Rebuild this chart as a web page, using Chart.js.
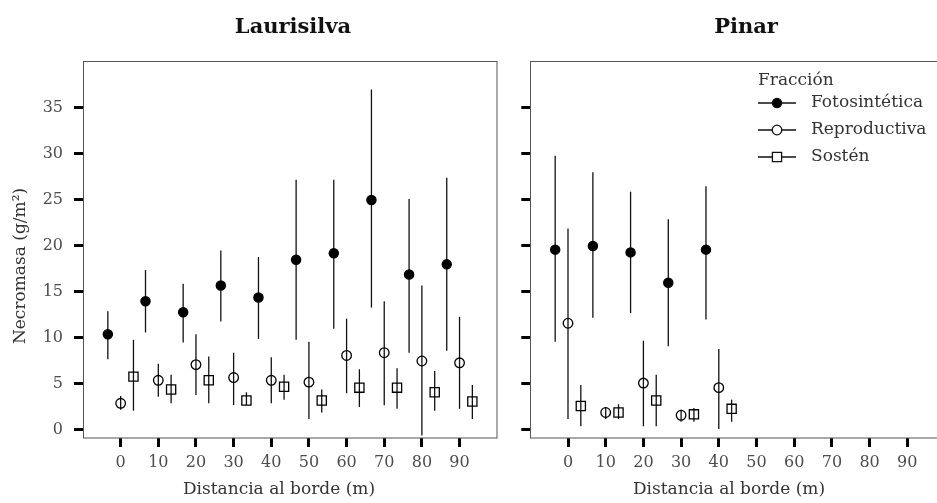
<!DOCTYPE html>
<html lang="es">
<head>
<meta charset="UTF-8">
<title>Necromasa por distancia al borde</title>
<script src="https://cdn.jsdelivr.net/npm/chart.js"></script>
<style>
  body { margin: 0; width: 937px; height: 503px; overflow: hidden; background: #fff; position: relative; }
  canvas { position: absolute; top: 0; }
  #lauri { left: 0; }
  #pinar { left: 505px; }
</style>
</head>
<body>
<canvas id="lauri" width="505" height="503"></canvas>
<canvas id="pinar" width="450" height="503"></canvas>
<script>
// --- datos ---
const fracciones = ['Fotosintética', 'Reproductiva', 'Sostén'];
const xTicks = [0, 10, 20, 30, 40, 50, 60, 70, 80, 90];
const yTicks = [0, 5, 10, 15, 20, 25, 30, 35];

// Laurisilva
const distLauri = [0, 10, 20, 30, 40, 50, 60, 70, 80, 90];
const lauFotoMedia = [10.4, 14.0, 12.8, 15.7, 14.4, 18.5, 19.2, 25.0, 16.9, 18.0];
const lauFotoInf   = [7.7, 10.6, 9.5, 11.8, 9.9, 9.8, 11.0, 13.3, 8.4, 8.6];
const lauFotoSup   = [12.9, 17.4, 15.9, 19.5, 18.8, 27.2, 27.2, 37.0, 25.1, 27.4];
const lauReprMedia = [2.9, 5.4, 7.1, 5.7, 5.4, 5.2, 8.1, 8.4, 7.5, 7.3];
const lauReprInf   = [2.2, 3.6, 3.8, 2.7, 2.9, 1.2, 4.0, 2.7, -0.6, 2.3];
const lauReprSup   = [3.7, 7.2, 10.4, 8.4, 7.9, 9.6, 12.1, 14.0, 15.7, 12.3];
const lauSostMedia = [5.8, 4.4, 5.4, 3.2, 4.7, 3.2, 4.6, 4.6, 4.1, 3.1];
const lauSostInf   = [2.1, 2.9, 2.9, 2.7, 3.3, 1.9, 2.5, 2.3, 2.1, 1.2];
const lauSostSup   = [9.8, 6.0, 8.0, 4.1, 6.0, 4.4, 6.6, 6.7, 6.4, 4.9];

// Pinar
const distPinar = [0, 10, 20, 30, 40];
const pinFotoMedia = [19.6, 20.0, 19.3, 16.0, 19.6];
const pinFotoInf   = [9.6, 12.2, 12.7, 9.1, 12.0];
const pinFotoSup   = [29.8, 28.0, 25.9, 22.9, 26.5];
const pinReprMedia = [11.6, 1.9, 5.1, 1.6, 4.6];
const pinReprInf   = [1.2, 1.2, 0.4, 0.9, 0.1];
const pinReprSup   = [21.9, 2.5, 9.7, 2.2, 8.8];
const pinSostMedia = [2.6, 1.9, 3.2, 1.7, 2.3];
const pinSostInf   = [0.4, 1.2, 0.4, 0.9, 0.9];
const pinSostSup   = [4.9, 2.8, 6.0, 2.4, 3.3];

// --- estilo ---
const FUENTE = '"DejaVu Serif", serif';
const DODGE = 3.4;
const estilos = [
  { pointStyle: 'circle', radius: 4.6, bg: '#000' },
  { pointStyle: 'circle', radius: 4.8, bg: 'rgba(0,0,0,0)' },
  { pointStyle: 'rect', radius: 6.5, bg: 'rgba(0,0,0,0)' }
];

// barras de error bajo los puntos
const barrasError = {
  id: 'barrasError',
  beforeDatasetsDraw(chart) {
    const { ctx, scales: { x, y } } = chart;
    ctx.save();
    ctx.strokeStyle = '#111';
    ctx.lineWidth = 1.3;
    chart.data.datasets.forEach(ds => {
      ds.data.forEach((p, i) => {
        const px = x.getPixelForValue(p.x);
        ctx.beginPath();
        ctx.moveTo(px, y.getPixelForValue(ds.inf[i]));
        ctx.lineTo(px, y.getPixelForValue(ds.sup[i]));
        ctx.stroke();
      });
    });
    ctx.restore();
  }
};

// marco del panel, titulo y titulos de ejes
const marco = {
  id: 'marco',
  afterDraw(chart, args, opts) {
    const { ctx, chartArea: a } = chart;
    ctx.save();
    ctx.strokeStyle = '#555';
    ctx.lineWidth = 1;
    const l = Math.round(a.left) + 0.5, t = Math.round(a.top) + 0.5;
    ctx.strokeRect(l, t, Math.round(a.right) - l, Math.round(a.bottom) - t);

    ctx.fillStyle = '#111';
    ctx.font = 'bold 21px ' + FUENTE;
    ctx.textAlign = 'center';
    ctx.textBaseline = 'alphabetic';
    ctx.fillText(opts.texto, opts.x, 33);

    ctx.fillStyle = '#333';
    ctx.font = '17px ' + FUENTE;
    ctx.textBaseline = 'middle';
    ctx.fillText('Distancia al borde (m)', opts.ejeX, 490);
    if (opts.ejeY) {
      ctx.translate(21, opts.ejeY);
      ctx.rotate(-Math.PI / 2);
      ctx.fillText('Necromasa (g/m²)', 0, 0);
    }
    ctx.restore();
  }
};

// leyenda "Fracción"
const leyenda = {
  id: 'leyenda',
  afterDraw(chart, args, opts) {
    if (!opts.display) return;
    const { ctx } = chart;
    ctx.save();
    ctx.font = '17px ' + FUENTE;
    ctx.fillStyle = '#333';
    ctx.textAlign = 'left';
    ctx.textBaseline = 'middle';
    ctx.fillText('Fracción', 253, 81);
    fracciones.forEach((f, i) => {
      const cy = 103 + i * 27;
      ctx.strokeStyle = '#111';
      ctx.lineWidth = 1.3;
      ctx.beginPath();
      ctx.moveTo(253, cy);
      ctx.lineTo(291, cy);
      ctx.stroke();
      const e = estilos[i];
      ctx.beginPath();
      if (e.pointStyle === 'circle') {
        ctx.arc(272, cy, e.radius, 0, Math.PI * 2);
      } else {
        const s = e.radius * Math.SQRT1_2;
        ctx.rect(272 - s, cy - s, 2 * s, 2 * s);
      }
      ctx.fillStyle = i === 0 ? '#000' : '#fff';
      ctx.fill();
      ctx.stroke();
      ctx.fillStyle = '#333';
      ctx.fillText(f, 306, cy);
    });
    ctx.restore();
  }
};

function crearPanel(id, titulo, tituloX, ejeX, ejeY, dist, series, etiquetasY, conLeyenda, anchoEjeY, padDerecha) {
  const datasets = series.map((s, k) => ({
    label: fracciones[k],
    data: dist.map((d, i) => ({ x: d + (k - 1) * DODGE, y: s.media[i] })),
    inf: s.inf,
    sup: s.sup,
    showLine: false,
    pointStyle: estilos[k].pointStyle,
    pointRadius: estilos[k].radius,
    pointHoverRadius: estilos[k].radius,
    pointBackgroundColor: estilos[k].bg,
    pointBorderColor: '#000',
    pointBorderWidth: 1.3
  }));

  return new Chart(document.getElementById(id), {
    type: 'scatter',
    data: { datasets },
    options: {
      responsive: false,
      animation: false,
      layout: { padding: { top: 61, right: padDerecha, bottom: 0, left: 0 } },
      scales: {
        x: {
          type: 'linear', min: -10, max: 100,
          afterBuildTicks: sc => { sc.ticks = xTicks.map(v => ({ value: v })); },
          afterFit: sc => { sc.height = 65; },
          grid: { drawOnChartArea: false, drawTicks: true, tickLength: 9, tickWidth: 3, tickColor: '#000' },
          border: { display: false },
          ticks: { color: '#4d4d4d', font: { family: FUENTE, size: 16 }, padding: 6, autoSkip: false, maxRotation: 0 }
        },
        y: {
          type: 'linear', min: -0.87, max: 40.1,
          afterBuildTicks: sc => { sc.ticks = yTicks.map(v => ({ value: v })); },
          afterFit: sc => { sc.width = anchoEjeY; },
          grid: { drawOnChartArea: false, drawTicks: true, tickLength: 9, tickWidth: 3, tickColor: '#000' },
          border: { display: false },
          ticks: { display: etiquetasY, color: '#4d4d4d', font: { family: FUENTE, size: 16 }, padding: 11 }
        }
      },
      plugins: {
        legend: { display: false },
        tooltip: { enabled: false },
        marco: { texto: titulo, x: tituloX, ejeX: ejeX, ejeY: ejeY },
        leyenda: { display: conLeyenda }
      }
    },
    plugins: [barrasError, marco, leyenda]
  });
}

crearPanel('lauri', 'Laurisilva', 293, 279, 266, distLauri, [
  { media: lauFotoMedia, inf: lauFotoInf, sup: lauFotoSup },
  { media: lauReprMedia, inf: lauReprInf, sup: lauReprSup },
  { media: lauSostMedia, inf: lauSostInf, sup: lauSostSup }
], true, false, 83, 7.3);

crearPanel('pinar', 'Pinar', 241, 224, null, distPinar, [
  { media: pinFotoMedia, inf: pinFotoInf, sup: pinFotoSup },
  { media: pinReprMedia, inf: pinReprInf, sup: pinReprSup },
  { media: pinSostMedia, inf: pinSostInf, sup: pinSostSup }
], false, true, 25.3, 10);
</script>
</body>
</html>
